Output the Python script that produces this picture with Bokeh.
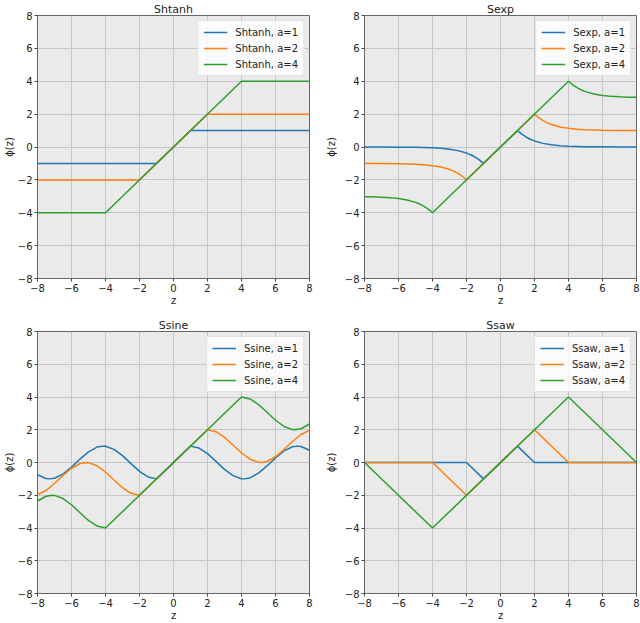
from bokeh.plotting import figure
from bokeh.layouts import column, row
from bokeh.models import FixedTicker, Legend, LegendItem
from bokeh.embed import file_html
from bokeh.resources import INLINE

# ---------------- data ----------------
A_VALUES = [1, 2, 4]
TICKS = [-8, -6, -4, -2, 0, 2, 4, 6, 8]
TICK_LABELS = ["\u22128", "\u22126", "\u22124", "\u22122", "0", "2", "4", "6", "8"]
TITLES = ["Shtanh", "Sexp", "Ssine", "Ssaw"]

# Shtanh
shtanh_z_a1 = [-8, -1, 1, 8]
shtanh_phi_a1 = [-1, -1, 1, 1]
shtanh_z_a2 = [-8, -2, 2, 8]
shtanh_phi_a2 = [-2, -2, 2, 2]
shtanh_z_a4 = [-8, -4, 4, 8]
shtanh_phi_a4 = [-4, -4, 4, 4]

# Sexp
sexp_z_a1 = [-8, -7, -6, -5, -4, -3.5, -3, -2.5, -2, -1.75, -1.5, -1.25, -1,
             1, 1.25, 1.5, 1.75, 2, 2.5, 3, 3.5, 4, 5, 6, 7, 8]
sexp_phi_a1 = [0.0, 0.0, -0.01, -0.02, -0.05, -0.08, -0.14, -0.22, -0.37, -0.47, -0.61, -0.78, -1.0,
               1.0, 0.78, 0.61, 0.47, 0.37, 0.22, 0.14, 0.08, 0.05, 0.02, 0.01, 0.0, 0.0]
sexp_z_a2 = [-8, -7, -6, -5, -4.5, -4, -3.5, -3, -2.75, -2.5, -2.25, -2,
             2, 2.25, 2.5, 2.75, 3, 3.5, 4, 4.5, 5, 6, 7, 8]
sexp_phi_a2 = [-1.0, -1.01, -1.02, -1.05, -1.08, -1.14, -1.22, -1.37, -1.47, -1.61, -1.78, -2.0,
               2.0, 1.78, 1.61, 1.47, 1.37, 1.22, 1.14, 1.08, 1.05, 1.02, 1.01, 1.0]
sexp_z_a4 = [-8, -7.5, -7, -6.5, -6, -5.5, -5, -4.75, -4.5, -4.25, -4,
             4, 4.25, 4.5, 4.75, 5, 5.5, 6, 6.5, 7, 7.5, 8]
sexp_phi_a4 = [-3.02, -3.03, -3.05, -3.08, -3.14, -3.22, -3.37, -3.47, -3.61, -3.78, -4.0,
               4.0, 3.78, 3.61, 3.47, 3.37, 3.22, 3.14, 3.08, 3.05, 3.03, 3.02]

# Ssine
ssine_z_a1 = [-8, -7.5, -7.28, -7, -6.5, -6, -5.5, -5, -4.5, -4.14, -4, -3.5, -3, -2.5, -2, -1.5, -1,
              1, 1.5, 2, 2.5, 3, 3.5, 4, 4.14, 4.5, 5, 5.5, 6, 6.5, 7, 7.28, 7.5, 8]
ssine_phi_a1 = [-0.75, -0.98, -1.0, -0.96, -0.71, -0.28, 0.21, 0.65, 0.94, 1.0, 0.99, 0.8, 0.42, -0.07, -0.54, -0.88, -1.0,
                1.0, 0.88, 0.54, 0.07, -0.42, -0.8, -0.99, -1.0, -0.94, -0.65, -0.21, 0.28, 0.71, 0.96, 1.0, 0.98, 0.75]
ssine_z_a2 = [-8, -7.5, -7, -6.5, -6, -5.5, -5.14, -5, -4.5, -4, -3.5, -3, -2.5, -2,
              2, 2.5, 3, 3.5, 4, 4.5, 5, 5.14, 5.5, 6, 6.5, 7, 7.5, 8]
ssine_phi_a2 = [-1.96, -1.71, -1.28, -0.79, -0.35, -0.06, 0.0, -0.01, -0.2, -0.58, -1.07, -1.54, -1.88, -2.0,
                2.0, 1.88, 1.54, 1.07, 0.58, 0.2, 0.01, 0.0, 0.06, 0.35, 0.79, 1.28, 1.71, 1.96]
ssine_z_a4 = [-8, -7.5, -7.14, -7, -6.5, -6, -5.5, -5, -4.5, -4,
              4, 4.5, 5, 5.5, 6, 6.5, 7, 7.14, 7.5, 8]
ssine_phi_a4 = [-2.35, -2.06, -2.0, -2.01, -2.2, -2.58, -3.07, -3.54, -3.88, -4.0,
                4.0, 3.88, 3.54, 3.07, 2.58, 2.2, 2.01, 2.0, 2.06, 2.35]

# Ssaw
ssaw_z_a1 = [-8, -2, -1, 1, 2, 8]
ssaw_phi_a1 = [0, 0, -1, 1, 0, 0]
ssaw_z_a2 = [-8, -4, -2, 2, 4, 8]
ssaw_phi_a2 = [0, 0, -2, 2, 0, 0]
ssaw_z_a4 = [-8, -4, 4, 8]
ssaw_phi_a4 = [0, -4, 4, 0]

SERIES = {
    "Shtanh": [(shtanh_z_a1, shtanh_phi_a1), (shtanh_z_a2, shtanh_phi_a2), (shtanh_z_a4, shtanh_phi_a4)],
    "Sexp": [(sexp_z_a1, sexp_phi_a1), (sexp_z_a2, sexp_phi_a2), (sexp_z_a4, sexp_phi_a4)],
    "Ssine": [(ssine_z_a1, ssine_phi_a1), (ssine_z_a2, ssine_phi_a2), (ssine_z_a4, ssine_phi_a4)],
    "Ssaw": [(ssaw_z_a1, ssaw_phi_a1), (ssaw_z_a2, ssaw_phi_a2), (ssaw_z_a4, ssaw_phi_a4)],
}

# ---------------- styles ----------------
COLORS = ["#1f77b4", "#ff7f0e", "#2ca02c"]
FONT = "DejaVu Sans"
BG = "#ebeaeb"
GRID = "#c6c6c6"


def make_panel(name, width, height, left, right, top, bottom, ylab_standoff):
    p = figure(width=width, height=height, x_range=(-8, 8), y_range=(-8, 8),
               output_backend="svg", toolbar_location=None, title=name,
               min_border_left=left, min_border_right=right,
               min_border_top=top, min_border_bottom=bottom,
               background_fill_color=BG, border_fill_color="white")
    p.title.align = "center"
    p.title.text_font = FONT
    p.title.text_font_size = "11px"
    p.title.text_font_style = "normal"
    p.title.text_color = "#222222"
    p.title.standoff = 0
    p.title.offset = 0

    p.outline_line_color = "#666666"
    p.outline_line_width = 1

    labels = {float(t): s for t, s in zip(TICKS, TICK_LABELS)}
    for ax in (p.xaxis[0], p.yaxis[0]):
        ax.ticker = FixedTicker(ticks=TICKS)
        ax.major_label_overrides = labels
        ax.major_label_text_font = FONT
        ax.major_label_text_font_size = "10px"
        ax.major_label_text_color = "#222222"
        ax.axis_label_text_font = FONT
        ax.axis_label_text_font_size = "10px"
        ax.axis_label_text_font_style = "normal"
        ax.axis_label_text_color = "#222222"
        ax.axis_line_color = None
        ax.major_tick_line_color = "#444444"
        ax.major_tick_out = 3
        ax.major_tick_in = 0
        ax.minor_tick_line_color = None
        ax.major_label_standoff = 2
        ax.axis_label_standoff = 0
    p.yaxis[0].axis_label_standoff = ylab_standoff
    p.xaxis.axis_label = "z"
    p.yaxis.axis_label = "\u03d5(z)"

    p.xgrid.grid_line_color = GRID
    p.ygrid.grid_line_color = GRID
    p.xgrid.ticker = FixedTicker(ticks=TICKS)
    p.ygrid.ticker = FixedTicker(ticks=TICKS)

    items = []
    for (z, phi), a, c in zip(SERIES[name], A_VALUES, COLORS):
        r = p.line(z, phi, line_color=c, line_width=1.5)
        items.append(LegendItem(label=f"{name}, a={a}", renderers=[r]))
    leg = Legend(items=items, location="top_right")
    leg.label_text_font = FONT
    leg.label_text_font_size = "10px"
    leg.label_text_color = "#222222"
    leg.label_height = 12
    leg.glyph_height = 12
    leg.glyph_width = 24
    leg.label_standoff = 8
    leg.spacing = 4
    leg.padding = 5
    leg.margin = 5
    leg.background_fill_color = "white"
    leg.background_fill_alpha = 0.8
    leg.border_line_color = "#cccccc"
    leg.border_line_width = 1
    p.add_layout(leg)
    return p


p1 = make_panel("Shtanh", 320, 311, 37, 11, 13, 33, 0)
p2 = make_panel("Sexp", 320, 311, 44, 4, 13, 33, 5)
p3 = make_panel("Ssine", 320, 312, 37, 11, 20, 27, 0)
p4 = make_panel("Ssaw", 320, 312, 44, 4, 20, 27, 5)

layout = column(row(p1, p2), row(p3, p4))

open("out.html", "w").write(file_html(layout, INLINE))
